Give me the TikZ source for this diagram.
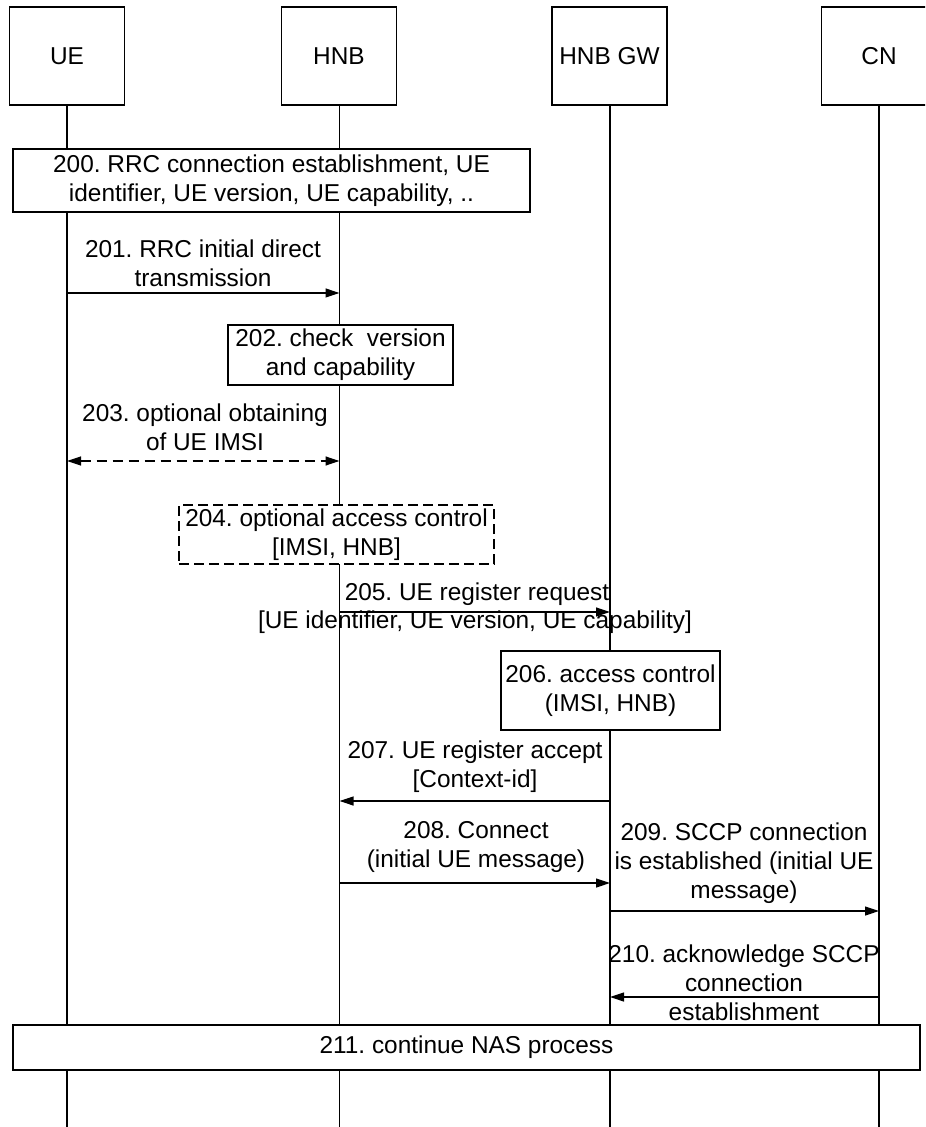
\documentclass[tikz,border=0pt]{standalone}
\usepackage{fontspec}
\setmainfont{Liberation Sans}
\usetikzlibrary{arrows.meta}
\begin{document}
\frenchspacing
\begin{tikzpicture}[x=0.5pt,y=-0.5pt,
  every node/.style={font=\fontsize{12.2}{14.5}\selectfont, align=center, inner sep=0pt},
  hdr/.style={draw, line width=0.6pt, fill=white, minimum width=57.5pt, minimum height=49pt, text height=8.8pt, text depth=0pt},
  actbox/.style={draw, line width=0.6pt, fill=white},
  life/.style={line width=0.6pt},
  msg/.style={line width=0.6pt, -{Triangle[length=7pt,width=4.5pt]}},
  dmsg/.style={line width=0.6pt, dash pattern=on 5pt off 3pt, {Triangle[length=7pt,width=4.5pt]}-{Triangle[length=7pt,width=4.5pt]}}
]
\useasboundingbox (0,0) rectangle (925,1127);
\clip (0,0) rectangle (925,1127);
\fill[white] (0,0) rectangle (925,1127);
% headers
\node[hdr] (ue) at (67,56) {UE};
\node[hdr] (hnb) at (339,56) {HNB};
\node[hdr] (gw) at (609.5,56) {HNB GW};
\node[hdr] (cn) at (879,56) {CN};
% lifelines
\coordinate (ueE) at (67,1130);
\coordinate (hnbE) at (339.5,1130);
\coordinate (gwE) at (610,1130);
\coordinate (cnE) at (879,1130);
\draw[life] (ue.south) -- (ueE);
\draw[life] (hnb.south -| hnbE) -- (hnbE);
\draw[life] (gw.south -| gwE) -- (gwE);
\draw[life] (cn.south) -- (cnE);
% boxes
\node[actbox, minimum width=258.5pt, minimum height=31.5pt] (b200) at (271.5,180.5)
  {200. RRC connection establishment, UE\\identifier, UE version, UE capability, ..};
\node[actbox, minimum width=112.5pt, minimum height=30pt] (b202) at (340.5,355)
  {202. check\ \ version\\and capability};
\node[actbox, dash pattern=on 5pt off 2.5pt, minimum width=157.5pt, minimum height=29.5pt] (b204) at (336.5,534.5)
  {204. optional access control\\{[IMSI, HNB]}};
\node[actbox, minimum width=109.5pt, minimum height=39.5pt] (b206) at (610.5,690.5)
  {206. access control\\(IMSI, HNB)};
\node[actbox, minimum width=453.5pt, minimum height=22.5pt] (b211) at (466.5,1047.5)
  {211. continue NAS process};
% message coordinates
\coordinate (a201) at (67,293);   \coordinate (b201) at (339.5,293);
\coordinate (a203) at (67,461);   \coordinate (b203) at (339.5,461);
\coordinate (a205) at (339.5,612); \coordinate (b205) at (610,612);
\coordinate (a207) at (610,801);  \coordinate (b207) at (339.5,801);
\coordinate (a208) at (339.5,883); \coordinate (b208) at (610,883);
\coordinate (a209) at (610,911);  \coordinate (b209) at (879,911);
\coordinate (a210) at (879,997);  \coordinate (b210) at (610,997);
% messages
\draw[msg] (a201) -- (b201);
\draw[dmsg] (a203) -- (b203);
\draw[msg] (a205) -- (b205);
\draw[msg] (a207) -- (b207);
\draw[msg] (a208) -- (b208);
\draw[msg] (a209) -- (b209);
\draw[msg] (a210) -- (b210);
% labels
\node (l201) at (203,263) {201. RRC initial direct\\transmission};
\node (l203) at (205,427) {203. optional obtaining\\of UE IMSI};
\node (l205a) at (477,594) {205. UE register request};
\node (l205b) at (475,622) {[UE identifier, UE version, UE capability]};
\node (l207) at (475,767) {207. UE register accept\\{[Context-id]}};
\node (l208) at (476,847) {208. Connect\\(initial UE message)};
\node (l209) at (744,863) {209. SCCP connection\\is established (initial UE\\message)};
\node (l210) at (744,983) {210. acknowledge SCCP\\connection\\establishment};
\end{tikzpicture}
\end{document}
